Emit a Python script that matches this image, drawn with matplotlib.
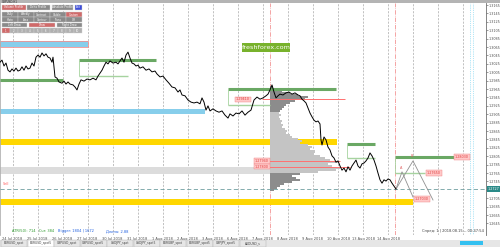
import matplotlib
matplotlib.use("Agg")
import matplotlib.pyplot as plt
import numpy as np
from matplotlib.patches import Rectangle
from matplotlib.transforms import blended_transform_factory

# ---- data (x = bar index, y = price) ----
bar_x = [0, 2, 4, 6, 8, 10, 12, 14, 16, 18, 20, 22, 24, 26, 28, 30, 32, 34, 36, 38,
         40, 42, 44, 46, 48, 50, 52, 53, 55, 57, 59, 62, 64, 66, 68, 70, 73, 75, 77, 79,
         81, 84, 87, 90, 93, 96, 98, 100, 102, 104, 106, 108, 110, 113, 116, 118, 120, 122, 124, 126,
         128, 130, 132, 134, 136, 138, 140, 143, 146, 149, 152, 155, 157, 160, 163, 166, 169, 172, 175, 178,
         180, 182, 185, 188, 191, 194, 197, 200, 202, 204, 206, 208, 210, 213, 216, 219, 222, 225, 228, 230,
         233, 236, 239, 242, 245, 248, 251, 254, 257, 260, 263, 266, 268, 270, 272, 274, 276, 278, 280, 283,
         286, 289, 292, 295, 298, 300, 302, 304, 306, 308, 310, 312, 314, 316, 318, 320, 321, 322, 324, 326,
         328, 330, 332, 334, 336, 338, 340, 342, 344, 346, 348, 350, 352, 354, 356, 358, 360, 362, 364, 366,
         368, 370, 372, 374, 376, 378, 380, 382, 384, 386, 388, 390, 392, 394, 396]
close = [1.3029, 1.3034, 1.3020, 1.3027, 1.3010, 1.3006, 1.3013, 1.3008, 1.3015, 1.3008,
         1.3010, 1.3018, 1.3010, 1.3020, 1.3013, 1.3015, 1.3027, 1.3020, 1.3041, 1.3046,
         1.3041, 1.3051, 1.3044, 1.3049, 1.3041, 1.3039, 1.3029, 1.3041, 1.2994, 1.2991,
         1.2982, 1.2979, 1.2984, 1.2977, 1.2982, 1.2977, 1.2975, 1.2970, 1.2963, 1.2977,
         1.2987, 1.2984, 1.2989, 1.2987, 1.2991, 1.2987, 1.2996, 1.3003, 1.3010, 1.3020,
         1.3029, 1.3025, 1.3032, 1.3027, 1.3029, 1.3025, 1.3032, 1.3039, 1.3029, 1.3046,
         1.3053, 1.3039, 1.3027, 1.3025, 1.3020, 1.3022, 1.3015, 1.3018, 1.3010, 1.3013,
         1.3006, 1.3008, 1.3001, 1.2994, 1.2996, 1.2987, 1.2979, 1.2970, 1.2968, 1.2958,
         1.2963, 1.2951, 1.2949, 1.2939, 1.2934, 1.2932, 1.2934, 1.2930, 1.2944, 1.2934,
         1.2915, 1.2925, 1.2913, 1.2918, 1.2913, 1.2910, 1.2913, 1.2903, 1.2896, 1.2906,
         1.2901, 1.2908, 1.2906, 1.2913, 1.2903, 1.2910, 1.2915, 1.2939, 1.2946, 1.2941,
         1.2944, 1.2949, 1.2953, 1.2963, 1.2975, 1.2958, 1.2944, 1.2949, 1.2953, 1.2951,
         1.2956, 1.2958, 1.2953, 1.2956, 1.2951, 1.2949, 1.2941, 1.2937, 1.2932, 1.2920,
         1.2908, 1.2899, 1.2891, 1.2887, 1.2889, 1.2882, 1.2844, 1.2832, 1.2851, 1.2844,
         1.2827, 1.2820, 1.2806, 1.2801, 1.2791, 1.2794, 1.2782, 1.2772, 1.2777, 1.2768,
         1.2780, 1.2772, 1.2782, 1.2789, 1.2796, 1.2782, 1.2777, 1.2787, 1.2789, 1.2794,
         1.2801, 1.2813, 1.2806, 1.2796, 1.2782, 1.2765, 1.2749, 1.2741, 1.2749, 1.2746,
         1.2751, 1.2749, 1.2741, 1.2734, 1.2727]
last_price = 1.2727

# zones: (bar from, bar to, low, high)
blue_zones = [(0, 88, 1.3065, 1.3079), (0, 205, 1.2906, 1.2918)]
yellow_zones = [(0, 337, 1.2832, 1.2846), (0, 413, 1.2689, 1.2703)]
grey_zone = (0, 270, 1.2763, 1.2780)

# green boxes: (bar from, top end, bottom end, top price, bottom price)
green_boxes = [(79, 156, 128, 1.3034, 1.2996),
               (228, 336, 270, 1.2965, 1.2927),
               (347, 375, 375, 1.2834, 1.2801),
               (395, 455, 425, 1.2803, 1.2765)]
green_single = (0, 63, 1.2987)

red_levels = [(262, 345, 1.2941), (262, 340, 1.2794), (262, 350, 1.2780)]
price_tags = [(236, 1.2941), (255, 1.2794), (255, 1.2780), (455, 1.2803), (427, 1.2765), (415, 1.2703)]

proj_a = ([396, 413, 433], [1.2727, 1.2794, 1.2701])
proj_b = ([396, 402, 413], [1.2727, 1.2768, 1.2708])

# volume profile from bar 270
prof_top = 1.2970
prof_step = 0.00048
prof_vol = [3, 8, 12, 20, 28, 38, 35, 25, 20, 16, 14, 12, 10, 9, 11, 9, 10, 12, 11, 13,
            12, 15, 17, 16, 20, 22, 28, 32, 30, 38, 42, 40, 45, 44, 50, 55, 60, 68, 58, 62,
            70, 66, 48, 30, 22, 26, 30, 22, 14, 10, 7, 4]

price_ticks = [1.3165 - 0.002 * k for k in range(27)]
date_labels = ["24 Jul 2018", "25 Jul 2018", "26 Jul 2018", "27 Jul 2018", "30 Jul 2018",
               "31 Jul 2018", "1 Aug 2018", "2 Aug 2018", "3 Aug 2018", "6 Aug 2018",
               "7 Aug 2018", "8 Aug 2018", "9 Aug 2018", "10 Aug 2018", "13 Aug 2018",
               "14 Aug 2018"]
tab_names = ["EURUSD_spot", "EURUSD_spot5", "GBPUSD_spot", "GBPUSD_spot5", "USDJPY_spot",
             "USDJPY_spot5", "EURGBP_spot", "EURGBP_spot5", "GBPJPY_spot5", "AUDUSD_s"]

W, H = 500, 247
fig = plt.figure(figsize=(5, 2.47), dpi=100)
fig.patch.set_facecolor("white")

top_px, bot_px, right_px = 3, 235, 486
ax = fig.add_axes([0, (H - bot_px) / H, right_px / W, (bot_px - top_px) / H])
ax.set_xlim(0, right_px)
ax.set_ylim(1.26176, 1.3170)

# grid lines
for gx in range(13, 480, 25):
    ax.axvline(gx, color="#a8a8a8", lw=0.5, ls=(0, (3, 2)), zorder=0)
for rx in (270, 395):
    ax.axvline(rx, color="#f08080", lw=0.5, ls="-.", zorder=0)
for cx in (470, 473):
    ax.axvline(cx, color="#66ccee", lw=0.5, ls=":", zorder=0)

# zones
for x0, x1, lo, hi in blue_zones:
    ax.add_patch(Rectangle((x0, lo), x1 - x0, hi - lo, fc="#87ceeb", ec="none", zorder=1))
ax.add_patch(Rectangle((blue_zones[0][0], blue_zones[0][2]), blue_zones[0][1] - blue_zones[0][0],
                       blue_zones[0][3] - blue_zones[0][2], fc="none", ec="#f09090", lw=0.6, zorder=2))
for x0, x1, lo, hi in yellow_zones:
    ax.add_patch(Rectangle((x0, lo), x1 - x0, hi - lo, fc="#ffd700", ec="none", zorder=1))
gz = grey_zone
ax.add_patch(Rectangle((gz[0], gz[2]), gz[1] - gz[0], gz[3] - gz[2], fc="#dcdcdc", ec="none", zorder=1))

# volume profile
levels = [prof_top - prof_step * i for i in range(len(prof_vol))]
prof_cols = ["#8c8c8c" if (p > 1.2910 or p < 1.2768) else "#c4c4c4" for p in levels]
ax.barh(levels, prof_vol, left=270, height=prof_step, color=prof_cols, edgecolor="none", zorder=2)

# green levels
ax.hlines(green_single[2], green_single[0], green_single[1], color="#6aa864", lw=2.2, zorder=3)
for x0, xt, xb, pt, pb in green_boxes:
    ax.hlines(pt, x0, xt, color="#6aa864", lw=2.2, zorder=3)
    ax.hlines(pb, x0, xb, color="#a6d39f", lw=1.0, zorder=3)
    ax.vlines(x0, pb, pt, color="#a6d39f", lw=0.6, zorder=3)

for x0, x1, p in red_levels:
    ax.hlines(p, x0, x1, color="#ff7070", lw=0.7, zorder=3)

# current price line
ax.axhline(last_price, color="#6f9fa0", lw=0.6, ls=(0, (5, 3)), zorder=3)

# projection
ax.plot(*proj_a, color="#909090", lw=0.6, zorder=3)
ax.plot(*proj_b, color="#909090", lw=0.6, zorder=3)
ax.text(412, 1.2800, "B", color="#e06060", fontsize=2.5, ha="center", va="bottom", zorder=5)
ax.text(401, 1.2772, "A", color="#e06060", fontsize=2.5, ha="center", va="bottom", zorder=5)

# price
ax.plot(bar_x, close, color="black", lw=0.7, zorder=4)

for tx, p in price_tags:
    ax.text(tx, p, "%.5f" % p, fontsize=2.4, color="#e04040", va="center", ha="left", zorder=6,
            bbox=dict(boxstyle="square,pad=0.2", fc="#ffc8c8", ec="#f08080", lw=0.3))

ax.text(3, 1.2737, "Sell", fontsize=2.5, color="#ff6060", zorder=6)

# axes style
for s in ("top", "bottom"):
    ax.spines[s].set_visible(False)
ax.spines["left"].set_color("#b0b0b0")
ax.spines["left"].set_linewidth(1.2)
ax.spines["right"].set_color("#707070")
ax.spines["right"].set_linewidth(0.6)
ax.yaxis.tick_right()
ax.set_yticks(price_ticks)
ax.set_yticklabels(["" if abs(p - last_price) < 0.0012 else "%.4f" % p for p in price_ticks])
ax.tick_params(axis="y", labelsize=2.4, length=1.2, width=0.4, pad=0.8, colors="#505050")
ax.set_xticks([2 + 25 * i for i in range(len(date_labels))])
ax.set_xticklabels(date_labels)
ax.tick_params(axis="x", labelsize=2.6, length=0, pad=1.2, colors="#505050")
for lbl in ax.get_xticklabels():
    lbl.set_ha("left")

tr = blended_transform_factory(ax.transAxes, ax.transData)
ax.text(1.003, last_price, "%.4f" % last_price, transform=tr, fontsize=2.4, color="white",
        va="center", ha="left", zorder=7, clip_on=False,
        bbox=dict(boxstyle="square,pad=0.2", fc="#2a8a88", ec="none"))

# status texts inside chart
ax.text(12, 1.26215, "ATR(50): 714   Cur: 384", fontsize=2.6, color="#2e9a2e", va="bottom")
ax.text(58, 1.26215, "Bigger: 1804 | 1672", fontsize=2.6, color="#2060e0", va="bottom")
ax.text(106, 1.26215, "Длина: 2.88", fontsize=2.6, color="#2060e0", va="bottom")
ax.text(484, 1.26215, "Спред: 1 | 2018.08.15 -- 00:47:54", fontsize=2.6, color="#404040",
        va="bottom", ha="right")

# ---- interface overlay (pixel coords) ----
ui = fig.add_axes([0, 0, 1, 1], zorder=10)
ui.set_xlim(0, W)
ui.set_ylim(H, 0)
ui.axis("off")

ui.add_patch(Rectangle((0, 0), W, 3, fc="#b4b4b4", ec="none"))
ui.text(2, 1.6, "GBPUSD,H1", fontsize=2.0, color="#303030", va="center")

def button(x, y, w, h, label, fc, tc="white"):
    ui.add_patch(Rectangle((x, y), w, h, fc=fc, ec="#d0d0d0", lw=0.3))
    ui.text(x + w / 2, y + h / 2, label, fontsize=1.9, color=tc, ha="center", va="center")

button(2, 5, 24, 5, "Volume Profile", "#d06a6a")
button(27, 5, 23, 5, "Delta Profile", "#8a8a8a")
button(52, 5, 21, 5, "Absolute Profile", "#8a8a8a")
button(75, 5, 7, 5, "Exit", "#3c4cd8")
for i, (lab, col) in enumerate([("Daily", "#8a8a8a"), ("Weekly", "#8a8a8a"), ("Contract", "#8a8a8a"),
                                ("Visible", "#8a8a8a"), ("Custom", "#d06a6a")]):
    button(2 + 16 * i, 12, 15.5, 5, lab, col)
for i, lab in enumerate(["Histo", "Area", "Contour", "Trans", "Off"]):
    button(2 + 16 * i, 17.5, 15.5, 4.5, lab, "#8a8a8a")
button(2, 23, 25, 4.5, "Left Draw", "#8a8a8a")
button(29, 23, 26, 4.5, "Draw", "#d06a6a")
button(57, 23, 25, 4.5, "Right Draw", "#8a8a8a")
for i in range(10):
    button(2 + 8 * i, 28.5, 7.5, 4.5, str(i + 1), "#d06a6a" if i == 0 else "#b0b0b0")

ui.add_patch(Rectangle((242, 43), 48, 9, fc="#78b22c", ec="none"))
ui.text(266, 47.6, "freshforex.com", fontsize=4.6, color="white", ha="center", va="center")

# tabs
ui.add_patch(Rectangle((0, 240), W, 7, fc="#e6e6e6", ec="none"))
for i, name in enumerate(tab_names):
    x = 1 + 26.5 * i
    ui.add_patch(Rectangle((x, 240), 26, 6.5, fc="white" if i == 1 else "#e6e6e6", ec="#b0b0b0", lw=0.3))
    ui.text(x + 13, 243.3, name, fontsize=2.2, color="#404040", ha="center", va="center")
ui.add_patch(Rectangle((460, 240.5), 23, 4, fc="#33c0f0", ec="none"))

fig.savefig("out.png", dpi=100)
